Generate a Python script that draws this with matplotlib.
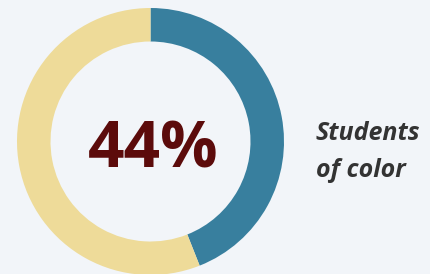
import matplotlib.pyplot as plt

labels = ["Students of color", "Other"]
shares = [44, 56]
colors = ["#387f9e", "#eedb99"]
center_text = "44%"
side_lines = ["Students", "of color"]

bg = "#f2f5f9"
fig = plt.figure(figsize=(4.31, 2.74), dpi=100)
fig.patch.set_facecolor(bg)
ax = fig.add_axes([0, 0, 1, 1])
ax.set_facecolor(bg)

# donut, drawn in pixel units (y up)
cx, cy = 150.5, 274 - 141.5
ax.pie(shares, colors=colors, startangle=90, counterclock=False,
       radius=133.5, center=(cx, cy),
       wedgeprops=dict(width=33.5, edgecolor="none"), frame=True)
ax.set_xlim(0, 431)
ax.set_ylim(0, 274)
ax.set_aspect("equal")
ax.axis("off")

ax.text(cx + 3, 274 - 167, center_text, ha="center", va="baseline",
        fontsize=46, fontweight="bold", color="#5c0b0b", family="Open Sans")
for line, base in zip(side_lines, [140, 177]):
    ax.text(316, 274 - base, line, ha="left", va="baseline", fontsize=18,
            fontweight="bold", fontstyle="italic", color="#333333",
            family="Open Sans")

fig.savefig("out.png", dpi=100, facecolor=bg)
